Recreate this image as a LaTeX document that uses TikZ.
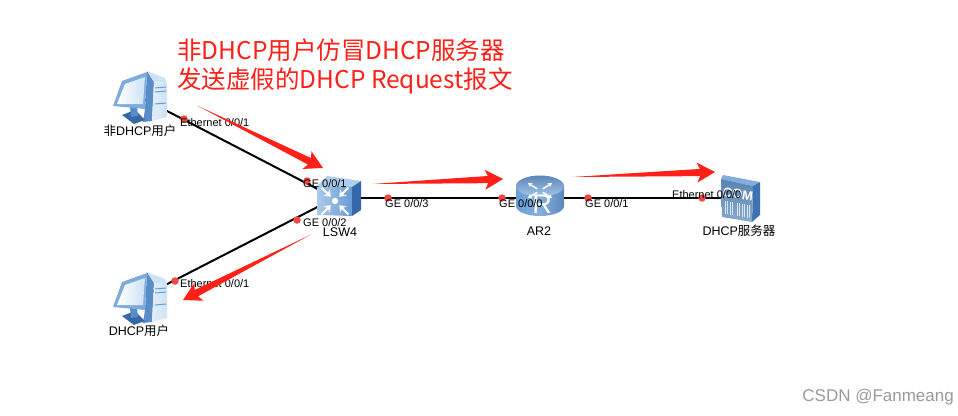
\documentclass[tikz,border=0pt]{standalone}
\usepackage{fontspec}
\setmainfont{Liberation Sans}
\newfontfamily\cjk{Noto Sans CJK SC}
\usetikzlibrary{positioning,arrows.meta,calc}
\definecolor{alertcol}{RGB}{255,32,24}
\definecolor{dotcol}{RGB}{245,70,65}
\definecolor{icondark}{RGB}{52,104,168}
\definecolor{iconmid}{RGB}{104,156,214}
\definecolor{iconlite}{RGB}{205,226,245}
\definecolor{srvfront}{RGB}{88,132,180}

\newcommand{\alertarrow}[2]{%
  \fill[alertcol] (#1) -- ($(#2)!15pt!(#1)!3.6pt!90:(#1)$) -- ($(#2)!18pt!(#1)!10pt!90:(#1)$) -- (#2)
    -- ($(#2)!18pt!(#1)!10pt!-90:(#1)$) -- ($(#2)!15pt!(#1)!3.6pt!-90:(#1)$) -- cycle;}

\tikzset{
  pc/.pic={
    % tower
    \fill[iconmid!70!icondark] (7,-26) -- (14,-15) -- (12,24) -- (3,25) -- (5,12) -- cycle;
    \fill[iconlite] (7,-26) -- (25,-19) -- (27,-14) -- (14,-15) -- cycle;
    \shade[left color=iconlite!60!white, right color=iconlite] (14,-15) -- (27,-14) -- (27,20) -- (12,24) -- cycle;
    \draw[iconmid, line width=1pt] (15,-9) -- (26,-10) (15,-5) -- (26,-6) (15,7) -- (26,6);
    % base and monitor
    \fill[icondark] (-18,18) -- (-5,13) -- (5,23) -- (-6,27) -- cycle;
    \fill[iconmid!70!icondark] (-10,10) -- (-3,10) -- (-2,19) -- (-9,20) -- cycle;
    \fill[iconmid!85!white] (-18,-16) -- (7,-25) -- (5,12) -- (-27,9) -- cycle;
    \shade[left color=white, right color=iconlite] (-15,-13) -- (5,-20) -- (3,7) -- (-23,7) -- cycle;
  },
  switch/.pic={
    \fill[iconlite!70!iconmid] (-18,-12) -- (-8,-22) -- (26,-17) -- (17,-11) -- cycle;
    \fill[icondark] (17,-11) -- (26,-17) -- (26,12) -- (17,18) -- cycle;
    \shade[left color=iconmid!55!white, right color=iconmid] (-18,-12) -- (17,-11) -- (17,18) -- (-18,17) -- cycle;
    \fill[white] (0,3) circle (3.2);
    \foreach \a in {45,135,225,315}
      \draw[white, line width=2pt, -{Stealth[length=6pt,width=9pt]}] ($(0,3)+(\a:19pt)$) -- ($(0,3)+(\a:6pt)$);
  },
  router/.pic={
    \shade[left color=iconmid, right color=icondark!80, middle color=iconmid!80]
      (-24,-12) -- (-24,8) arc[start angle=180, end angle=0, x radius=24, y radius=10] -- (24,-12) -- cycle;
    \shade[top color=icondark!80, bottom color=iconmid!60!white] (0,-12) ellipse [x radius=24, y radius=10.5];
    \foreach \a in {45,135,225,315}
      \draw[white, line width=1.5pt, -{Stealth[length=4pt,width=5pt]}, yscale=.62]
        ($(0,-12)+(\a:4pt)$) -- ($(0,-12)+(\a:17pt)$);
    \node[white, font=\fontsize{27}{27}\selectfont, inner sep=0] (arglyph) at (2,6) {R};
  },
  server/.pic={
    \fill[iconlite!25!iconmid] (-17,-23) -- (20,-16) -- (13,-12) -- (-19,-19) -- cycle;
    \fill[icondark!80!iconmid] (13,-12) -- (20,-16) -- (20,17) -- (12,24) -- cycle;
    \shade[top color=srvfront, bottom color=srvfront!70!white] (-19,-19) -- (13,-12) -- (12,24) -- (-18,19) -- cycle;
    \foreach \x in {-15,-12.5,-10,-7.5,-3,-0.5,2,4.5,7,9.5}
      \draw[white!75!iconmid, line width=.9pt] (\x,{3+(\x+15)*.17}) -- (\x,{16+(\x+15)*.17});
    \node[white, font=\bfseries\fontsize{13}{13}\selectfont, inner sep=0, rotate=-8] (srvglyph) at (-2,-4) {COM};
  }
}

\begin{document}
\begin{tikzpicture}[x=1pt, y=-1pt,
  dev/.style={inner sep=0, minimum size=1pt},
  link/.style={black, line width=2pt},
  portdot/.style={circle, fill=dotcol, inner sep=0, minimum size=7.5pt},
  lbl/.style={font=\fontsize{11}{13}\selectfont, anchor=west, inner sep=0},
  devlbl/.style={font=\fontsize{12.5}{14}\selectfont, inner sep=0},
  head/.style={font=\cjk\fontsize{24.5}{28}\selectfont, text=alertcol, anchor=west, inner sep=0}
]
\useasboundingbox (0,0) rectangle (958,415);

\node[dev] (fakeuser) at (140,97)  {};
\node[dev] (dhcpuser) at (140,298) {};
\node[dev] (lsw)      at (335,198) {};
\node[dev] (ar)       at (540,198) {};
\node[dev] (dhcpsrv)  at (740,198) {};

\draw[link] (fakeuser.center) -- (lsw.center);
\draw[link] (dhcpuser.center) -- (lsw.center);
\draw[link] (lsw.center) -- (ar.center);
\draw[link] (ar.center) -- (dhcpsrv.center);

\pic at (fakeuser) {pc};
\pic at (dhcpuser) {pc};
\pic at (lsw) {switch};
\pic at (ar) {router};
\pic at (dhcpsrv) {server};

\node[portdot] (p1) at (184,119) {};
\node[portdot] (p2) at (307,181) {};
\node[portdot] (p3) at (297,220) {};
\node[portdot] (p4) at (175,281) {};
\node[portdot] (p5) at (388,198) {};
\node[portdot] (p6) at (502,198) {};
\node[portdot] (p7) at (588,198) {};
\node[portdot] (p8) at (702,198) {};

\node[lbl] (e1) at (180,123) {Ethernet 0/0/1};
\node[lbl] (e2) at (180,284) {Ethernet 0/0/1};
\node[lbl] (e3) at (672,195) {Ethernet 0/0/0};
\node[lbl] (g1) at (303,184) {GE 0/0/1};
\node[lbl] (g2) at (303,223) {GE 0/0/2};
\node[lbl] (g3) at (385,204) {GE 0/0/3};
\node[lbl] (g4) at (499,204) {GE 0/0/0};
\node[lbl] (g5) at (585,204) {GE 0/0/1};

\node[devlbl] (n1) at (140,131) {{\cjk 非}DHCP{\cjk 用户}};
\node[devlbl] (n2) at (139,331) {DHCP{\cjk 用户}};
\node[devlbl] (n3) at (340,232) {LSW4};
\node[devlbl] (n4) at (539,231) {AR2};
\node[devlbl] (n5) at (739,231) {DHCP{\cjk 服务器}};

\node[head] (t1) at (177,50) {非DHCP用户仿冒DHCP服务器};
\node[head] (t2) at (177,81) {发送虚假的DHCP Request报文};

% red arrows
\coordinate (a1) at (198,106); \coordinate (b1) at (323,168);
\coordinate (a2) at (372,184); \coordinate (b2) at (503,179);
\coordinate (a3) at (572,177); \coordinate (b3) at (715,172);
\coordinate (a4) at (310,235); \coordinate (b4) at (183,300);
\alertarrow{a1}{b1}
\alertarrow{a2}{b2}
\alertarrow{a3}{b3}
\alertarrow{a4}{b4}

\node[font=\fontsize{17}{20}\selectfont, text=black!40, anchor=east, inner sep=0] (mark) at (954,397) {CSDN @Fanmeang};
\end{tikzpicture}
\end{document}
